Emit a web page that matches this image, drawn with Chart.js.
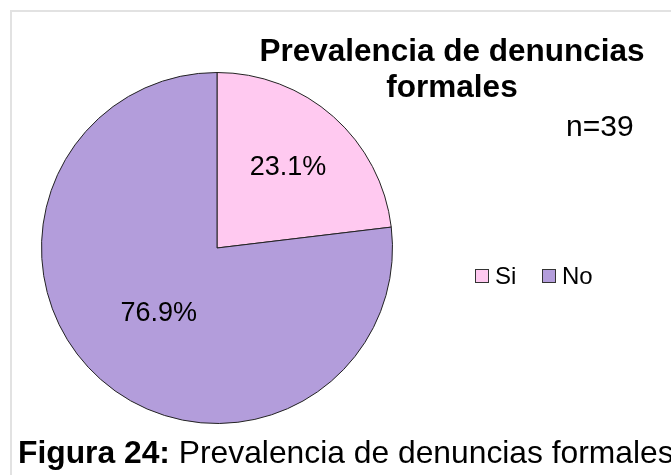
<!DOCTYPE html>
<html>
<head>
<meta charset="utf-8">
<script src="https://cdn.jsdelivr.net/npm/chart.js@4/dist/chart.umd.min.js"></script>
<style>
  body { margin: 0; background: #fff; font-family: "Liberation Sans", Arial, sans-serif; }
  #wrap { position: relative; width: 671px; height: 475px; overflow: hidden; }
  #frame { position: absolute; left: 10px; top: 10px; width: 700px; height: 600px; border-left: 2px solid #e2e2e2; border-top: 2px solid #e2e2e2; }
  #pieChart { position: absolute; left: 0; top: 0; }
  #caption { position: absolute; left: 18px; top: 434px; font-size: 31.8px; line-height: 36px; white-space: nowrap; color: #000; }
</style>
</head>
<body>
<div id="wrap">
  <div id="frame"></div>
  <canvas id="pieChart" width="671" height="475"></canvas>
  <div id="caption"><b>Figura 24:</b> Prevalencia de denuncias formales</div>
</div>
<script>
/* pie data */
const labels = ["Si", "No"];
const percents = [23.1, 76.9];
const colors = ["#ffc9f0", "#b39ddb"];
const titleLines = ["Prevalencia de denuncias", "formales"];
const nLabel = "n=39";

// how far out the percent text sits, as a share of the radius
const labelDepth = [0.61, 0.5];

// titles, n, percent labels and legend drawn by hand
const extras = {
    id: "extras",
    afterDatasetsDraw(chart) {
        const ctx = chart.ctx;
        ctx.save();
        ctx.fillStyle = "#000";
        ctx.textBaseline = "middle";

        // title
        ctx.textAlign = "center";
        ctx.font = "bold 31.5px 'Liberation Sans', Arial";
        ctx.fillText(titleLines[0], 452, 52);
        ctx.fillText(titleLines[1], 452, 88);

        ctx.textAlign = "left";
        ctx.font = "30px 'Liberation Sans', Arial";
        ctx.fillText(nLabel, 566, 128);

        // percent labels
        ctx.textAlign = "center";
        ctx.font = "27px 'Liberation Sans', Arial";
        chart.getDatasetMeta(0).data.forEach(function(arc, i) {
            const mid = (arc.startAngle + arc.endAngle) / 2;
            const r = arc.outerRadius * labelDepth[i];
            ctx.fillText(percents[i].toFixed(1) + "%", arc.x + Math.cos(mid) * r, arc.y + Math.sin(mid) * r);
        });

        // legend
        ctx.textAlign = "left";
        ctx.font = "24px 'Liberation Sans', Arial";
        let x = 475;
        labels.forEach(function(lab, i) {
            ctx.fillStyle = colors[i];
            ctx.fillRect(x, 269, 14, 14);
            ctx.strokeStyle = "#333";
            ctx.lineWidth = 1;
            ctx.strokeRect(x + 0.5, 269.5, 13, 13);
            ctx.fillStyle = "#000";
            ctx.fillText(lab, x + 20, 277);
            x += 67;
        });
        ctx.restore();
    }
};

const CHART = document.getElementById("pieChart");
let pieChart = new Chart(CHART, {
    type: 'pie',
    data: {
        labels: labels,
        datasets: [{
            data: percents,
            backgroundColor: colors,
            borderColor: "#222",
            borderWidth: 1
        }]
    },
    options: {
        responsive: false,
        animation: false,
        layout: { padding: { left: 41, right: 278, top: 72, bottom: 51 } },
        plugins: {
            legend: { display: false },
            tooltip: { enabled: false }
        }
    },
    plugins: [extras]
});
</script>
</body>
</html>
